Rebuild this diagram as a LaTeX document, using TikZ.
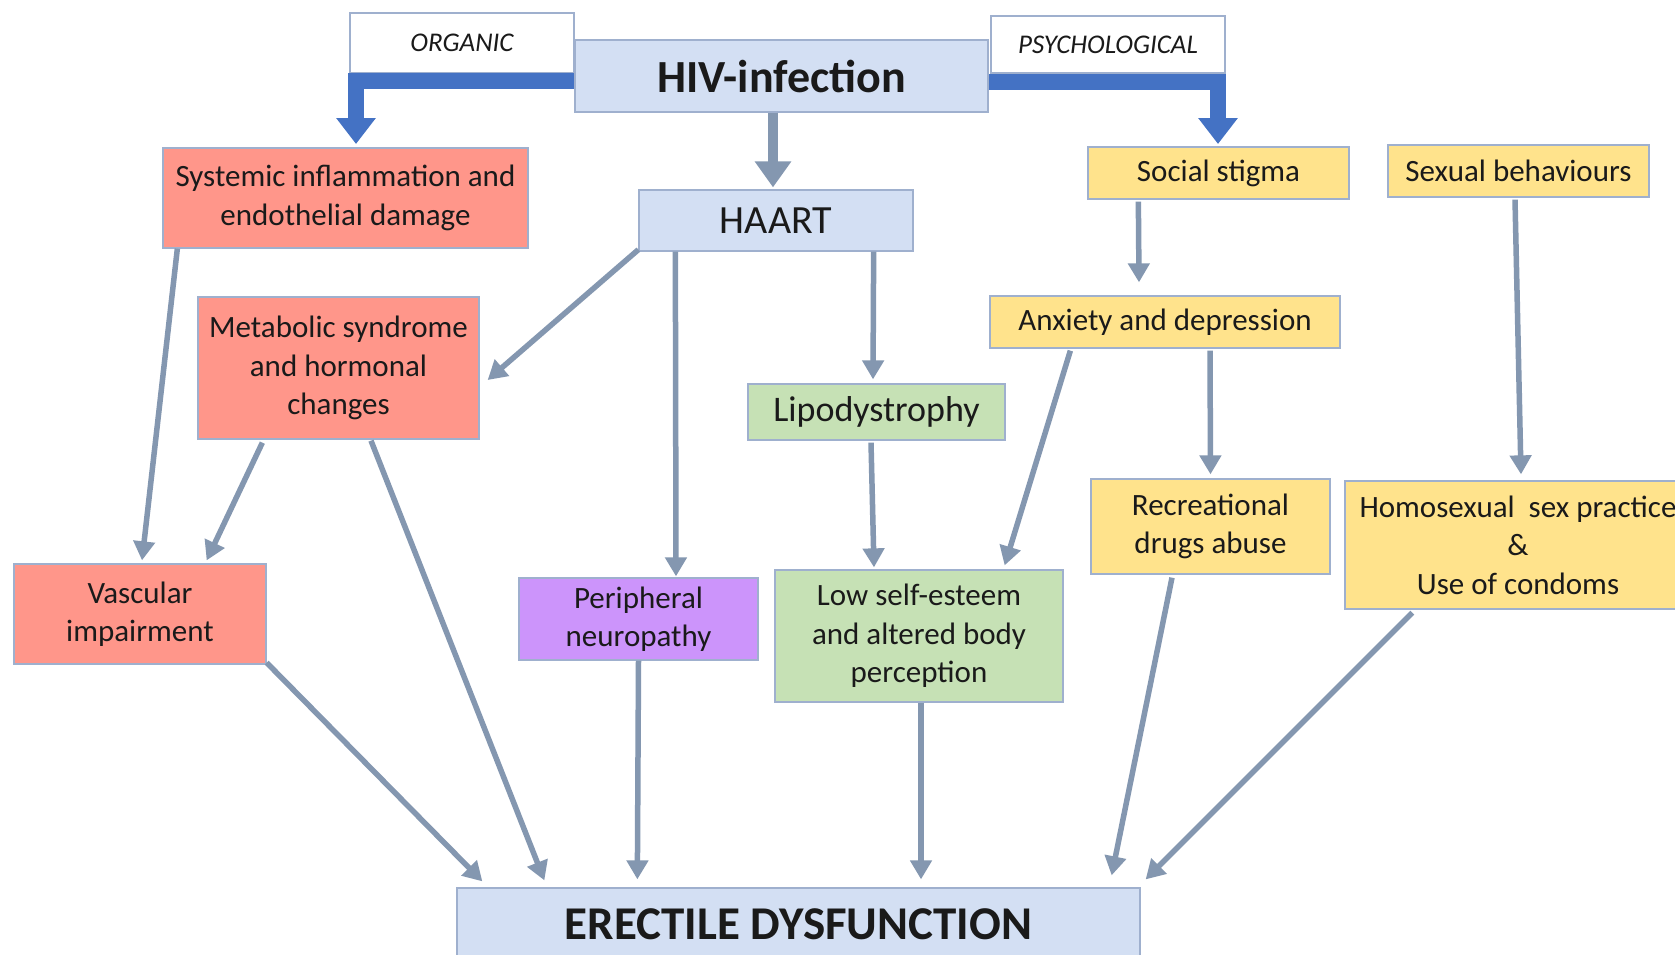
\documentclass[tikz,border=0pt]{standalone}
\usepackage{fontspec}
\setmainfont{Carlito}
\usetikzlibrary{arrows.meta,calc}
\definecolor{redf}{HTML}{FF968A}
\definecolor{bluef}{HTML}{D3DFF3}
\definecolor{yelf}{HTML}{FFE38C}
\definecolor{grnf}{HTML}{C6E1B5}
\definecolor{purf}{HTML}{CC94FB}
\definecolor{bord}{HTML}{9FB0CE}
\definecolor{arrg}{HTML}{8497B0}
\definecolor{arrb}{HTML}{4472C4}
\definecolor{txt}{HTML}{1A1A1A}
\tikzset{
  box/.style={draw=bord, line width=1.3pt, inner sep=0pt, align=center, text=txt,
    font=\fontsize{31}{38.5}\selectfont},
  redbox/.style={box, fill=redf},
  bluebox/.style={box, fill=bluef},
  yelbox/.style={box, fill=yelf},
  grnbox/.style={box, fill=grnf},
  purbox/.style={box, fill=purf},
  labbox/.style={box, fill=white, font=\fontsize{27}{32}\selectfont\itshape},
  garr/.style={draw=arrg, line width=5.5pt, -{Triangle[width=21pt,length=19pt]}},
  bigarr/.style={draw=arrg, line width=10pt, -{Triangle[width=35pt,length=26pt]}},
  barr/.style={draw=arrb, line width=16pt, -{Triangle[width=38pt,length=26pt]}},
}
\begin{document}
\begin{tikzpicture}[x=1pt,y=-1pt]
\useasboundingbox (0,0) rectangle (1675,954);
\clip (0,0) rectangle (1675,954);
\fill[white] (0,0) rectangle (1675,954);
% label boxes
\node[labbox, minimum width=224pt, minimum height=60pt] (org) at (462,43) {ORGANIC};
\node[labbox, minimum width=234pt, minimum height=57pt] (psy) at (1108,44.5) {PSYCHOLOGICAL};
% thick blue elbow arrows
\coordinate (hivl) at (575,81);
\coordinate (hivr) at (988,82);
\draw[barr] (hivl) -- (356,81) -- (356,144);
\draw[barr] (hivr) -- (1218,82) -- (1218,144);
% main nodes
\node[bluebox, minimum width=413pt, minimum height=72pt, font=\fontsize{46}{50}\selectfont\bfseries] (hiv) at (781.5,76) {HIV-infection};
\node[bluebox, minimum width=274pt, minimum height=61pt, font=\fontsize{40}{44}\selectfont] (haart) at (776,220.5) {HAART};
\node[redbox, minimum width=365pt, minimum height=100pt] (sys) at (345.5,198) {Systemic inflammation and\\endothelial damage};
\node[yelbox, minimum width=261pt, minimum height=52pt] (soc) at (1218.5,173) {Social stigma};
\node[yelbox, minimum width=261pt, minimum height=52pt] (sexb) at (1518.5,171) {Sexual behaviours};
\node[redbox, minimum width=281pt, minimum height=142pt] (met) at (338.5,368) {Metabolic syndrome\\and hormonal\\changes};
\node[yelbox, minimum width=350pt, minimum height=52pt] (anx) at (1165,322) {Anxiety and depression};
\node[grnbox, minimum width=257pt, minimum height=56pt, font=\fontsize{36}{40}\selectfont] (lipo) at (876.5,412) {Lipodystrophy};
\node[yelbox, minimum width=239pt, minimum height=95pt] (rec) at (1210.5,526.5) {Recreational\\drugs abuse};
\node[yelbox, minimum width=346pt, minimum height=128pt] (homo) at (1518,545) {Homosexual\ \ sex practice\\\&\\Use of condoms};
\node[redbox, minimum width=252pt, minimum height=100pt] (vasc) at (140,614) {Vascular\\impairment};
\node[purbox, minimum width=239pt, minimum height=82pt] (peri) at (638.5,619) {Peripheral\\neuropathy};
\node[grnbox, minimum width=288pt, minimum height=132pt] (low) at (919,636) {Low self-esteem\\and altered body\\perception};
\node[bluebox, minimum width=683pt, minimum height=72pt, font=\fontsize{47}{50}\selectfont\bfseries] (ed) at (798.5,924) {ERECTILE DYSFUNCTION};
% connectors
\draw[bigarr] ($(hiv.south)+(-8.5,0)$) -- ($(haart.north)+(-3,-2)$);
\draw[garr] ($(sys.south west)+(15,0)$) -- ($(vasc.north)+(2,-3)$);
\draw[garr] ($(met.south west)+(65,3)$) -- ($(vasc.north east)+(-60,-3)$);
\draw[garr] ($(haart.south west)+(0,-2)$) -- ($(met.east)+(8,12)$);
\draw[garr] ($(haart.south west)+(37,0)$) -- ($(peri.north)+(37.5,-1)$);
\draw[garr] ($(haart.south east)+(-40,0)$) -- ($(lipo.north)+(-3.5,-4)$);
\draw[garr] ($(lipo.south)+(-5.5,2)$) -- ($(low.north)+(-45,-2)$);
\draw[garr] ($(soc.south west)+(51,2)$) -- ($(anx.north)+(-26,-13)$);
\draw[garr] ($(anx.south west)+(81,2)$) -- ($(low.north east)+(-59,-4)$);
\draw[garr] ($(anx.south)+(45,2)$) -- ($(rec.north)+(0,-4)$);
\draw[garr] ($(sexb.south)+(-3.5,2)$) -- ($(homo.north)+(3,-6)$);
\draw[garr] ($(vasc.south east)+(0,-2)$) -- ($(ed.north west)+(26,-6)$);
\draw[garr] ($(met.south)+(32.5,1)$) -- ($(ed.north west)+(88,-7)$);
\draw[garr] (peri.south) -- ($(ed.north west)+(181,-8)$);
\draw[garr] ($(low.south)+(2,0)$) -- ($(ed.north)+(122.5,-8)$);
\draw[garr] ($(rec.south)+(-38.5,3)$) -- ($(ed.north east)+(-29,-12)$);
\draw[garr] ($(homo.south west)+(68,3)$) -- ($(ed.north east)+(5,-8)$);
\end{tikzpicture}
\end{document}
